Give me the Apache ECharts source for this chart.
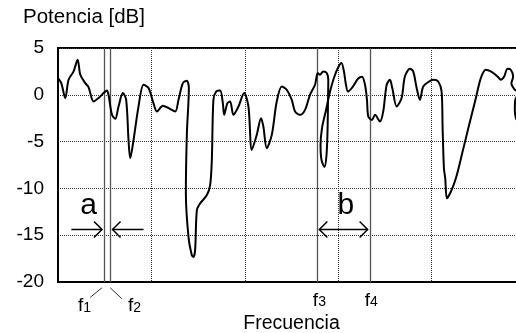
<!DOCTYPE html>
<html>
<head>
<meta charset="utf-8">
<script src="https://cdn.jsdelivr.net/npm/echarts@6/dist/echarts.min.js"></script>
<style>
  html, body { margin: 0; padding: 0; background: #fff; }
  #chart { width: 516px; height: 333px; }
</style>
</head>
<body>
<div id="chart"></div>
<script>
// frecuencia en divisiones de la rejilla (0..5), potencia en dB
const freq = [0, 0.035, 0.078, 0.113, 0.167, 0.21, 0.239, 0.292, 0.327, 0.381, 0.434, 0.488, 0.524, 0.541,
  0.578, 0.613, 0.648, 0.695, 0.73, 0.755, 0.773, 0.809, 0.862, 0.916, 0.969, 1.022, 1.059, 1.123, 1.183,
  1.255, 1.29, 1.337, 1.38, 1.401, 1.38, 1.369, 1.397, 1.433, 1.45, 1.468, 1.487, 1.522, 1.594, 1.629,
  1.647, 1.664, 1.693, 1.736, 1.765, 1.779, 1.814, 1.843, 1.878, 1.932, 1.993, 2.039, 2.075, 2.128, 2.174,
  2.199, 2.235, 2.289, 2.342, 2.396, 2.449, 2.503, 2.538, 2.591, 2.645, 2.698, 2.752, 2.781, 2.805, 2.84,
  2.877, 2.894, 2.891, 2.886, 2.875, 2.853, 2.821, 2.811, 2.827, 2.87, 2.912, 2.955, 2.998, 3.035, 3.062,
  3.083, 3.105, 3.158, 3.212, 3.255, 3.287, 3.308, 3.322, 3.361, 3.394, 3.447, 3.482, 3.519, 3.554, 3.579,
  3.626, 3.679, 3.714, 3.768, 3.803, 3.84, 3.875, 3.91, 3.964, 4.017, 4.071, 4.107, 4.118, 4.132, 4.146,
  4.164, 4.206, 4.26, 4.332, 4.402, 4.474, 4.527, 4.581, 4.634, 4.706, 4.741, 4.777, 4.813, 4.848, 4.873,
  4.854, 4.891, 4.907, 4.923, 4.896, 4.891, 4.902, 4.944];
const power = [1.79, 1.25, -0.35, 1.61, 2.5, 3.75, 2.14, 1.25, 0.82, -0.72, -0.35, 0.18, 0.46, 0,
  -2.14, -2.57, -1.25, 0.18, -0.54, -4.82, -6.78, -4.82, -1.25, 1.07, 0.72, -0.89, -1.79, -1.18, -1.42,
  -1.79, -0.54, 1.25, 1.5, 0.72, -4.1, -10.5, -15.18, -17.14, -17.32, -16.6, -12.32, -11.6, -10.71, -9.64,
  -6.96, -0.54, 0.35, 0.46, -0.89, -2.14, -0.89, -0.72, -2.14, -1.25, 0.18, -1.25, -5.89, -4.28, -2.5,
  -3.4, -5.71, -4.28, -0.72, 0.89, 0.54, -0.54, -1.79, -2.14, -1.61, 0, 1.07, 2.32, 2.14, 2.5,
  2.32, 1.61, -0.54, -3.75, -6.43, -7.71, -6.96, -5.36, -3.53, -1.61, 0.32, 1.82, 2.89, 3.4, 2.46,
  1.07, 0.35, 0.89, 1.71, 1.93, 1.07, -0.54, -2.32, -2.68, -2.14, -2.86, -1.79, 1.07, 1.61, 0.72,
  -1.25, -0.35, 1.96, 2.78, 2.5, 0.72, -0.54, 0.89, 1.36, 1.61, 1.42, 0.35, -3.57, -7.85, -8.92,
  -11.06, -10.36, -8.92, -6.07, -3.21, -0.35, 1.79, 2.68, 2.5, 1.96, 1.61, 1.96, 2.78, 2.68, 1.96,
  1.18, 0.54, 0.43, 0.11, -0.54, -1.61, -2.46, -3.21];

const yTicks = [-20, -15, -10, -5, 0, 5];

// frecuencias f1..f4
const markerFreq = [0.503, 0.56, 2.78, 3.34];
const markerNames = ['1', '2', '3', '4'];
const markerLabelX = [0.265, 0.80, 2.78, 3.335];
const markerLabelY = [-23.6, -23.6, -23.0, -23.0];

// rayitas que unen f1 y f2 con sus líneas
const leaders = [
  [0.345, -21.64, 0.471, -20.62],
  [0.559, -20.62, 0.684, -21.78]
];

// flechas: desde, hasta, nivel, punta inicio, punta final
const arrows = [
  [0.143, 0.471, -14.39, 0, 1],
  [0.916, 0.584, -14.39, 0, 1],
  [2.798, 3.315, -14.39, 1, 1]
];

const bandNames = ['a', 'b'];
const bandX = [0.328, 3.083];
const bandY = [-11.9, -11.9];

const font = 'Liberation Sans, Arial, Helvetica, sans-serif';

const chart = echarts.init(document.getElementById('chart'), null, { renderer: 'canvas' });

const curve = freq.map((f, i) => [f, power[i]]);

function headPoints(p, dir, h) {
  return [[p[0] - dir * h, p[1] - h], [p[0], p[1]], [p[0] - dir * h, p[1] + h]];
}

const option = {
  animation: false,
  backgroundColor: '#fff',
  title: {
    text: 'Potencia [dB]',
    left: 18,
    top: 2,
    textStyle: { fontFamily: font, fontSize: 20.5, fontWeight: 'normal', color: '#000' }
  },
  grid: {
    left: 58,
    top: 48,
    right: -9,
    bottom: 51,
    show: true,
    borderColor: '#000',
    borderWidth: 2,
    outerBoundsMode: 'none'
  },
  xAxis: {
    type: 'value',
    min: 0,
    max: 5,
    interval: 1,
    name: 'Frecuencia',
    nameLocation: 'middle',
    nameGap: 32,
    nameTextStyle: { fontFamily: font, fontSize: 19.5, color: '#000' },
    axisLine: { show: true, onZero: false, lineStyle: { color: '#000', width: 2 } },
    axisTick: { show: false },
    axisLabel: { show: false },
    splitLine: { show: true, lineStyle: { color: '#333', width: 1, type: [1, 1] } }
  },
  yAxis: {
    type: 'value',
    min: yTicks[0],
    max: yTicks[yTicks.length - 1],
    interval: 5,
    axisLine: { show: true, onZero: false, lineStyle: { color: '#000', width: 2 } },
    axisTick: { show: false },
    axisLabel: { margin: 14, fontFamily: font, fontSize: 19, color: '#000' },
    splitLine: { show: true, lineStyle: { color: '#333', width: 1, type: [1, 1] } }
  },
  series: [
    {
      name: 'potencia',
      type: 'line',
      data: curve,
      smooth: 0.3,
      symbol: 'none',
      lineStyle: { color: '#000', width: 2 },
      z: 5,
      markLine: {
        silent: true,
        symbol: 'none',
        label: { show: false },
        lineStyle: { color: '#555', width: 1.3, type: 'solid' },
        data: markerFreq.map(f => ({ xAxis: f }))
      }
    },
    {
      name: 'flechas',
      type: 'custom',
      data: arrows,
      z: 6,
      renderItem: (params, api) => {
        const y = api.value(2);
        const p1 = api.coord([api.value(0), y]);
        const p2 = api.coord([api.value(1), y]);
        const dir = Math.sign(p2[0] - p1[0]);
        const st = { stroke: '#000', fill: null, lineWidth: 1.5 };
        const children = [{
          type: 'line',
          shape: { x1: p1[0], y1: p1[1], x2: p2[0], y2: p2[1] },
          style: st
        }];
        if (api.value(4)) {
          children.push({ type: 'polyline', shape: { points: headPoints(p2, dir, 8) }, style: st });
        }
        if (api.value(3)) {
          children.push({ type: 'polyline', shape: { points: headPoints(p1, -dir, 8) }, style: st });
        }
        return { type: 'group', children: children };
      }
    },
    {
      name: 'rayas',
      type: 'custom',
      data: leaders,
      clip: false,
      renderItem: (params, api) => {
        const a = api.coord([api.value(0), api.value(1)]);
        const b = api.coord([api.value(2), api.value(3)]);
        return {
          type: 'line',
          shape: { x1: a[0], y1: a[1], x2: b[0], y2: b[1] },
          style: { stroke: '#333', lineWidth: 1 }
        };
      }
    },
    {
      name: 'marcas',
      type: 'custom',
      data: markerNames.map((n, i) => [markerLabelX[i], markerLabelY[i], i]),
      clip: false,
      renderItem: (params, api) => {
        const p = api.coord([api.value(0), api.value(1)]);
        const i = api.value(2);
        return {
          type: 'group',
          children: [
            {
              type: 'text', x: p[0] + 0.5, y: p[1],
              style: { text: 'f', fontFamily: font, fontSize: 19, fill: '#000', align: 'right', verticalAlign: 'bottom' }
            },
            {
              type: 'text', x: p[0] + 0.5, y: p[1] - 1,
              style: { text: markerNames[i], fontFamily: font, fontSize: 14, fill: '#000', align: 'left', verticalAlign: 'bottom' }
            }
          ]
        };
      }
    },
    {
      name: 'bandas',
      type: 'custom',
      data: bandNames.map((n, i) => [bandX[i], bandY[i], i]),
      z: 6,
      renderItem: (params, api) => {
        const p = api.coord([api.value(0), api.value(1)]);
        return {
          type: 'text', x: p[0], y: p[1],
          style: { text: bandNames[api.value(2)], fontFamily: font, fontSize: 30, fill: '#000', align: 'center', verticalAlign: 'middle' }
        };
      }
    }
  ]
};

chart.setOption(option);
</script>
</body>
</html>
